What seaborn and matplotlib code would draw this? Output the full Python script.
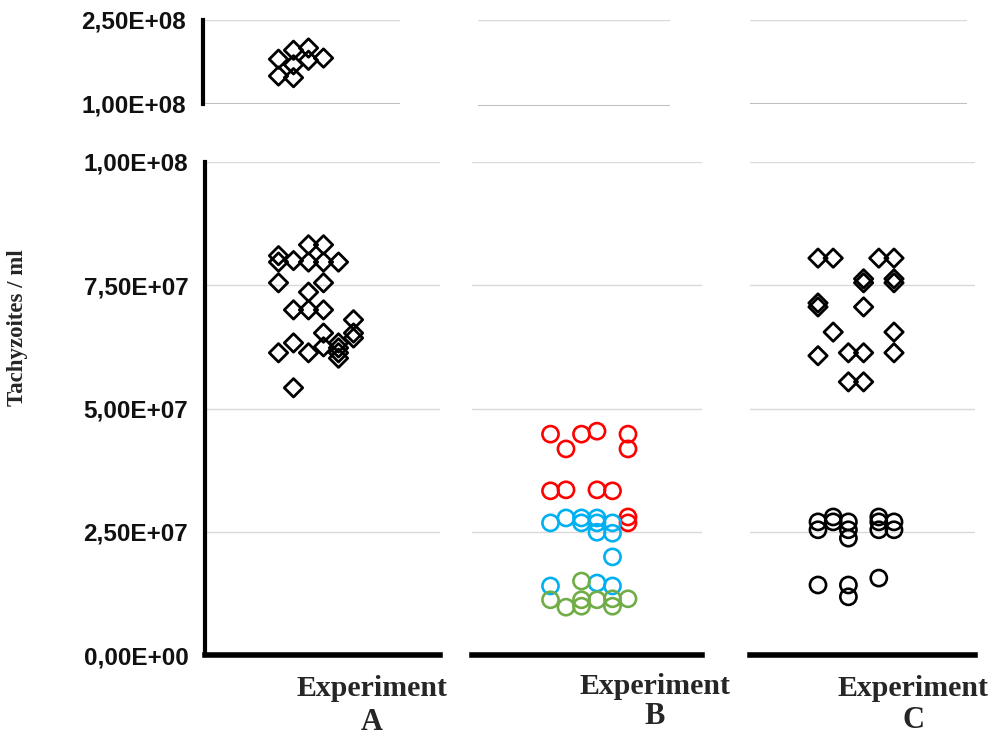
import matplotlib
matplotlib.use('Agg')
import matplotlib.pyplot as plt
import seaborn as sns
import pandas as pd

sns.set_theme(style='white')
plt.rcParams['font.family'] = ['Liberation Sans', 'DejaVu Sans']

# ---------------- data (lane = jitter column inside each experiment, value = tachyzoites/ml)
a_lane = [0, 1, 2, 3, 1, 2, 0, 1,
          0, 0, 0, 0,
          1, 1, 1, 1,
          2, 2, 2, 2, 2,
          3, 3, 3, 3, 3, 3,
          4, 4, 4, 4, 4,
          5, 5, 5]
a_val = [1.80e8, 1.96e8, 2.00e8, 1.82e8, 1.70e8, 1.78e8, 1.50e8, 1.47e8,
         8.10e7, 7.97e7, 7.55e7, 6.13e7,
         8.00e7, 7.00e7, 6.33e7, 5.42e7,
         8.32e7, 7.97e7, 7.36e7, 7.00e7, 6.13e7,
         8.32e7, 7.97e7, 7.55e7, 7.00e7, 6.53e7, 6.25e7,
         7.97e7, 6.33e7, 6.23e7, 6.13e7, 6.02e7,
         6.80e7, 6.53e7, 6.43e7]

b_red_lane = [0, 1, 2, 3, 5, 5, 0, 1, 3, 4, 5, 5]
b_red_val = [4.48e7, 4.18e7, 4.48e7, 4.54e7, 4.48e7, 4.18e7,
             3.33e7, 3.35e7, 3.35e7, 3.33e7, 2.80e7, 2.68e7]
b_blue_lane = [0, 1, 2, 2, 3, 3, 4, 3, 4, 4, 0, 3, 4]
b_blue_val = [2.68e7, 2.78e7, 2.78e7, 2.68e7, 2.78e7, 2.68e7, 2.68e7,
              2.49e7, 2.47e7, 1.99e7, 1.40e7, 1.46e7, 1.40e7]
b_green_lane = [2, 0, 1, 2, 2, 3, 4, 4, 5]
b_green_val = [1.50e7, 1.12e7, 0.97e7, 1.12e7, 0.99e7, 1.12e7, 1.14e7, 0.99e7, 1.14e7]

c_dia_lane = [0, 1, 4, 5, 3, 3, 5, 5, 0, 0, 3, 1, 5, 0, 2, 3, 5, 2, 3]
c_dia_val = [8.05e7, 8.05e7, 8.05e7, 8.05e7, 7.63e7, 7.55e7, 7.63e7, 7.55e7,
             7.14e7, 7.06e7, 7.06e7, 6.55e7, 6.55e7, 6.07e7, 6.13e7, 6.13e7,
             6.13e7, 5.54e7, 5.54e7]
c_circ_lane = [0, 0, 0, 1, 1, 2, 2, 2, 2, 2, 4, 4, 4, 4, 5, 5]
c_circ_val = [2.70e7, 2.54e7, 1.42e7, 2.80e7, 2.70e7, 2.70e7, 2.54e7, 2.37e7,
              1.42e7, 1.18e7, 2.80e7, 2.70e7, 2.54e7, 1.56e7, 2.70e7, 2.54e7]

bottom_ticks = [0, 2.5e7, 5e7, 7.5e7, 1e8]
top_ticks = [1e8, 2.5e8]
exp_labels = ['Experiment\nA', 'Experiment\nB', 'Experiment\nC']

# ---------------- layout
W, H = 992, 738
fig = plt.figure(figsize=(W / 100, H / 100), dpi=100)


def add_ax(l, r, t, b, x0, dx):
    ax = fig.add_axes([l / W, 1 - b / H, (r - l) / W, (b - t) / H])
    ax.set_xlim((l - x0) / dx, (r - x0) / dx)
    ax.set_facecolor('none')
    for s in ax.spines.values():
        s.set_visible(False)
    ax.set_xticks([])
    ax.tick_params(axis='y', length=0, pad=12, labelsize=17.5)
    return ax


def fmt(v):
    return f"{v:.2E}".replace('.', ',')


cols = [  # (bottom l, r), (top l, r), lane0 px, lane spacing, top bottom-y
    ((205, 440), (203, 400), 278.5, 15.0, 104),
    ((472, 702), (478, 670), 550.5, 15.5, 106),
    ((750, 975), (750, 967), 818.0, 15.2, 104),
]

bottom_axes, top_axes = [], []
for i, ((bl, br), (tl, tr), x0, dx, tb) in enumerate(cols):
    axb = add_ax(bl, br, 162, 655, x0, dx)
    axb.set_ylim(0, 1e8)
    axb.set_yticks(bottom_ticks)
    for yv in bottom_ticks[1:]:
        axb.axhline(yv, color='#d9d9d9', lw=1, zorder=0)
    axb.spines['bottom'].set_visible(True)
    axb.spines['bottom'].set_color('black')
    axb.spines['bottom'].set_linewidth(4)
    axt = add_ax(tl, tr, 20, tb, x0, dx)
    axt.set_ylim(1e8, 2.5e8)
    axt.set_yticks(top_ticks)
    axt.axhline(2.5e8, color='#d9d9d9', lw=1, zorder=0)
    axt.axhline(1e8, color='#bfbfbf', lw=2.2, zorder=0)
    if i == 0:
        for ax in (axb, axt):
            ax.spines['left'].set_visible(True)
            ax.spines['left'].set_color('black')
            ax.spines['left'].set_linewidth(3)
            ax.set_yticklabels([fmt(v) for v in ax.get_yticks()], fontweight='bold', color='#111111')
    else:
        axb.set_yticklabels([])
        axt.set_yticklabels([])
    bottom_axes.append(axb)
    top_axes.append(axt)

# ---------------- marks
dia_kw = dict(marker='D', s=88, facecolor='none', linewidth=2.0, legend=False)
circ_kw = dict(marker='o', s=135, facecolor='none', linewidth=1.9, legend=False)

df_a = pd.DataFrame({'lane': a_lane, 'value': a_val})
sns.scatterplot(data=df_a[df_a['value'] <= 1e8], x='lane', y='value', edgecolor='black',
                ax=bottom_axes[0], **dia_kw)
sns.scatterplot(data=df_a[df_a['value'] > 1e8], x='lane', y='value', edgecolor='black',
                ax=top_axes[0], **dia_kw)

for lanes, vals, col in [(b_red_lane, b_red_val, '#ff0000'),
                         (b_blue_lane, b_blue_val, '#00b0f0'),
                         (b_green_lane, b_green_val, '#70ad47')]:
    d = pd.DataFrame({'lane': lanes, 'value': vals})
    sns.scatterplot(data=d, x='lane', y='value', edgecolor=col, ax=bottom_axes[1], **circ_kw)

df_cd = pd.DataFrame({'lane': c_dia_lane, 'value': c_dia_val})
sns.scatterplot(data=df_cd, x='lane', y='value', edgecolor='black', ax=bottom_axes[2], **dia_kw)
df_cc = pd.DataFrame({'lane': c_circ_lane, 'value': c_circ_val})
sns.scatterplot(data=df_cc, x='lane', y='value', edgecolor='black', ax=bottom_axes[2], **circ_kw)

for ax in bottom_axes + top_axes:
    ax.set_xlabel('')
    ax.set_ylabel('')

# ---------------- text
serif = ['Liberation Serif', 'DejaVu Serif']
for lab, (xc, y1, y2) in zip(exp_labels, [(372, 689, 722), (655, 686, 717), (913, 688, 720)]):
    word, letter = lab.split('\n')
    fig.text(xc / W, 1 - y1 / H, word, ha='center', va='center', family=serif,
             fontweight='bold', fontsize=21.5)
    fig.text(xc / W, 1 - y2 / H, letter, ha='center', va='center', family=serif,
             fontweight='bold', fontsize=22)

fig.text(18 / W, 1 - 328 / H, 'Tachyzoites / ml', rotation=90, ha='center', va='center',
         family=serif, fontweight='bold', fontsize=16.5)

fig.savefig('out.png', dpi=100)
